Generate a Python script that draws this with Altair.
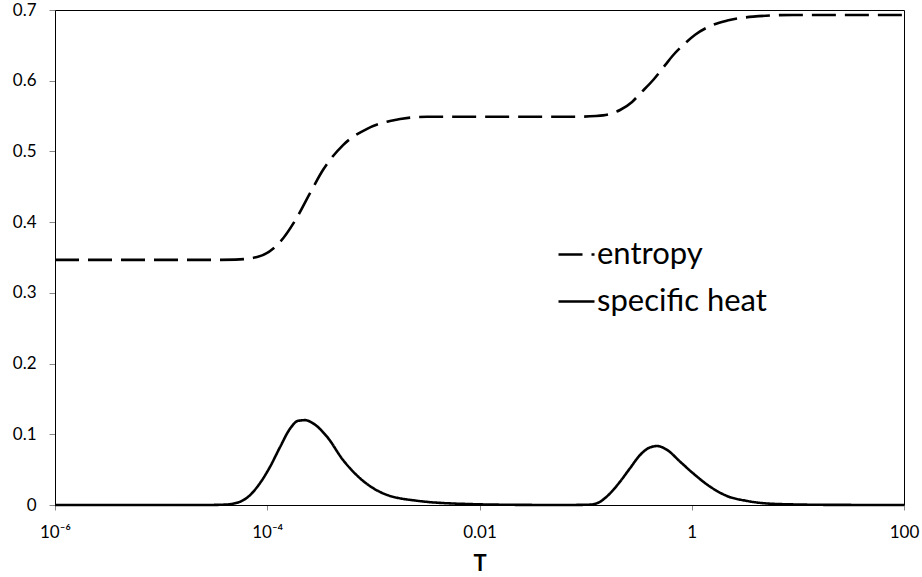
import altair as alt
import pandas as pd

# Entropy curve: temperature and value pairs
entropy_T = [1e-6, 1e-5, 2.71e-5, 5.01e-5, 8.18e-5, 1.321e-4, 1.91e-4, 2.53e-4,
             3.36e-4, 5.18e-4, 8.73e-4, 1.435e-3, 3.21e-3, 7.64e-3, 0.0316, 0.0794,
             0.125, 0.146, 0.211, 0.274, 0.327, 0.433, 0.561, 0.667, 0.867, 1.076,
             1.59, 2.16, 3.79, 9.04, 20.0, 100.0]
entropy_S = [0.3466, 0.3466, 0.3466, 0.347, 0.351, 0.372, 0.407, 0.441,
             0.474, 0.509, 0.532, 0.543, 0.549, 0.549, 0.549, 0.549,
             0.550, 0.551, 0.5586, 0.570, 0.582, 0.601, 0.622, 0.636, 0.653, 0.665,
             0.679, 0.685, 0.6906, 0.693, 0.693, 0.693]

# Specific heat curve: temperature and value pairs
heat_T = [1e-6, 1e-5, 2.51e-5, 3.98e-5, 5.55e-5, 6.89e-5, 8.55e-5, 1.062e-4,
          1.321e-4, 1.641e-4, 1.95e-4, 2.27e-4, 2.70e-4, 3.66e-4, 5.18e-4, 7.50e-4,
          1.233e-3, 2.58e-3, 7.64e-3, 0.0242, 0.0631, 0.110, 0.137, 0.170, 0.211,
          0.262, 0.326, 0.405, 0.472, 0.586, 0.778, 1.03, 1.49, 2.15, 3.33, 6.38,
          20.1, 100.0]
heat_C = [0.0, 0.0, 0.0, 0.0005, 0.0047, 0.014, 0.031, 0.054,
          0.082, 0.108, 0.119, 0.120, 0.1155, 0.0965, 0.0636, 0.0377,
          0.0165, 0.006, 0.0014, 0.0002, 0.0, 0.0005, 0.0047, 0.0165, 0.033,
          0.052, 0.0707, 0.0815, 0.0834, 0.0778, 0.0612, 0.0448, 0.0259, 0.0127, 0.0057, 0.0014,
          0.0002, 0.0]

series_names = ["entropy", "specific heat"]
x_ticks = [1e-6, 1e-4, 0.01, 1, 100]
x_tick_labels = ["10⁻⁶", "10⁻⁴", "0.01", "1", "100"]
y_ticks = [0, 0.1, 0.2, 0.3, 0.4, 0.5, 0.6, 0.7]

df = pd.concat([
    pd.DataFrame({"T": entropy_T, "value": entropy_S, "series": series_names[0]}),
    pd.DataFrame({"T": heat_T, "value": heat_C, "series": series_names[1]}),
])

# label expression picking the text for each tick (ticks are 100x apart)
label_expr = ""
for i, lab in enumerate(x_tick_labels[:-1]):
    label_expr += f"datum.value < {x_ticks[i] * 10} ? '{lab}' : "
label_expr += f"'{x_tick_labels[-1]}'"

FONT = "Lato"

chart = alt.Chart(df).mark_line(
    interpolate="monotone", strokeWidth=2.6, color="black"
).encode(
    x=alt.X("T:Q",
            scale=alt.Scale(type="log", domain=[1e-6, 100], nice=False),
            axis=alt.Axis(values=x_ticks, labelExpr=label_expr, title="T",
                          titleFontWeight="bold", titleFontSize=22, titleFont=FONT,
                          titlePadding=13, labelPadding=14, labelFontSize=17,
                          labelFont=FONT, tickSize=5, labelFlush=False)),
    y=alt.Y("value:Q",
            scale=alt.Scale(domain=[0, 0.7], nice=False),
            axis=alt.Axis(values=y_ticks, format=".1~f", title=None,
                          labelPadding=13, labelFontSize=17, labelFont=FONT,
                          tickSize=6)),
    strokeDash=alt.StrokeDash(
        "series:N",
        scale=alt.Scale(domain=series_names, range=[[24, 9], [1, 0]]),
        legend=alt.Legend(title=None, orient="none", legendX=502, legendY=225,
                          symbolType="stroke", symbolSize=1296, symbolStrokeWidth=2.6,
                          symbolStrokeColor="black", labelFontSize=31, labelFont=FONT,
                          labelOffset=1, rowPadding=12, labelLimit=400,
                          labelColor="black"),
    ),
    detail="series:N",
).properties(
    width=849, height=495,
    padding={"left": 55, "top": 10, "right": 18, "bottom": 72},
    autosize=alt.AutoSizeParams(type="none"),
).configure_view(
    stroke="black", strokeWidth=1
).configure_axis(
    grid=False, domainColor="black", domainWidth=1, tickColor="#888888",
    labelColor="black", titleColor="black"
)

chart.save("out.html", embed_options={"renderer": "svg", "actions": False})
